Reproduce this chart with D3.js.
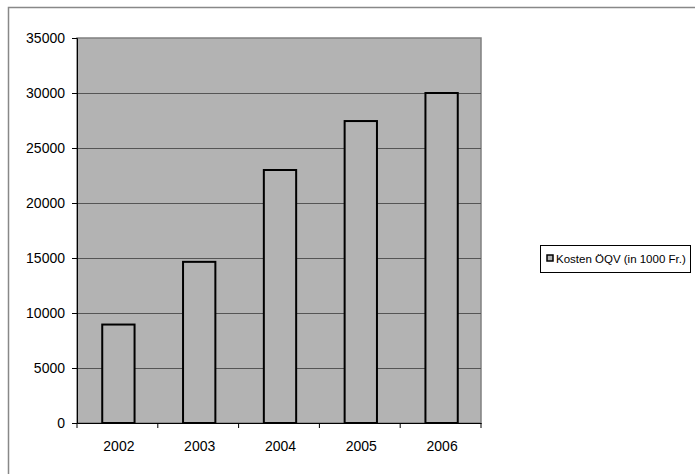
<!DOCTYPE html>
<html><head><meta charset="utf-8">
<script src="https://cdn.jsdelivr.net/npm/d3@7"></script>
<style>body{margin:0;background:#fff}svg{display:block}</style>
</head><body>
<script>
const categories = ["2002","2003","2004","2005","2006"];
const values = [8950, 14650, 23000, 27450, 30000];
const yTicks = [0,5000,10000,15000,20000,25000,30000,35000];
const seriesName = "Kosten ÖQV (in 1000 Fr.)";

const W = 695, H = 474;
const svg = d3.select("body").append("svg").attr("width", W).attr("height", H);
const font = "'Liberation Sans', Arial, sans-serif";

// outer chart frame
svg.append("path").attr("d", `M8.5,${H} V7.5 H${W}`).attr("fill","none").attr("stroke","#888").attr("stroke-width",1.5);

const plot = {l:77, r:481, t:38, b:423};
const x = d3.scaleBand().domain(categories).range([plot.l+1, plot.r+1]).paddingInner(0.6).paddingOuter(0.3);
const xb = d3.scaleBand().domain(categories).range([plot.l, plot.r]);
const y = d3.scaleLinear().domain([0,35000]).range([plot.b, plot.t]);

svg.append("rect").attr("x",plot.l).attr("y",plot.t).attr("width",plot.r-plot.l).attr("height",plot.b-plot.t)
  .attr("fill","#b3b3b3").attr("stroke","#808080").attr("stroke-width",1.5);

// gridlines
svg.append("g").selectAll("line").data(yTicks.filter(d=>d>0 && d<35000)).join("line")
  .attr("x1",plot.l).attr("x2",plot.r).attr("y1",d=>Math.round(y(d))+0.5).attr("y2",d=>Math.round(y(d))+0.5)
  .attr("stroke","#555").attr("stroke-width",1);

// bars
svg.append("g").selectAll("rect").data(values).join("rect")
  .attr("x",(d,i)=>x(categories[i])).attr("width",x.bandwidth())
  .attr("y",d=>y(d)).attr("height",d=>plot.b-y(d))
  .attr("fill","#b3b3b3").attr("stroke","#000").attr("stroke-width",2);

// y axis
const ya = svg.append("g").attr("transform",`translate(${plot.l},0)`)
  .call(d3.axisLeft(y).tickValues(yTicks).tickSize(5).tickPadding(7).tickFormat(d3.format("d")));
ya.select(".domain").attr("stroke","#000");
ya.selectAll("text").attr("font-family",font).attr("font-size",14).attr("fill","#000");

// x axis
const xa = svg.append("g").attr("transform",`translate(0,${plot.b})`)
  .call(d3.axisBottom(xb).tickSize(0).tickPadding(18));
xa.select(".domain").attr("stroke","#000").attr("stroke-width",1);
xa.selectAll("text").attr("font-family",font).attr("font-size",14).attr("fill","#000").attr("dx",1.5);
// boundary ticks
svg.append("g").selectAll("line").data(categories.concat(["end"])).join("line")
  .attr("x1",(d,i)=>i<5?xb(d):plot.r).attr("x2",(d,i)=>i<5?xb(d):plot.r)
  .attr("y1",plot.b).attr("y2",plot.b+5).attr("stroke","#000");

// legend
const lg = svg.append("g");
lg.append("rect").attr("x",540.5).attr("y",245.5).attr("width",150).attr("height",27)
  .attr("fill","#fff").attr("stroke","#000").attr("stroke-width",1);
lg.append("rect").attr("x",547).attr("y",255).attr("width",6).attr("height",6)
  .attr("fill","#b3b3b3").attr("stroke","#000").attr("stroke-width",1.5);
lg.append("text").attr("x",556).attr("y",263).attr("font-family",font).attr("font-size",11.5).text(seriesName);
</script>
</body></html>
